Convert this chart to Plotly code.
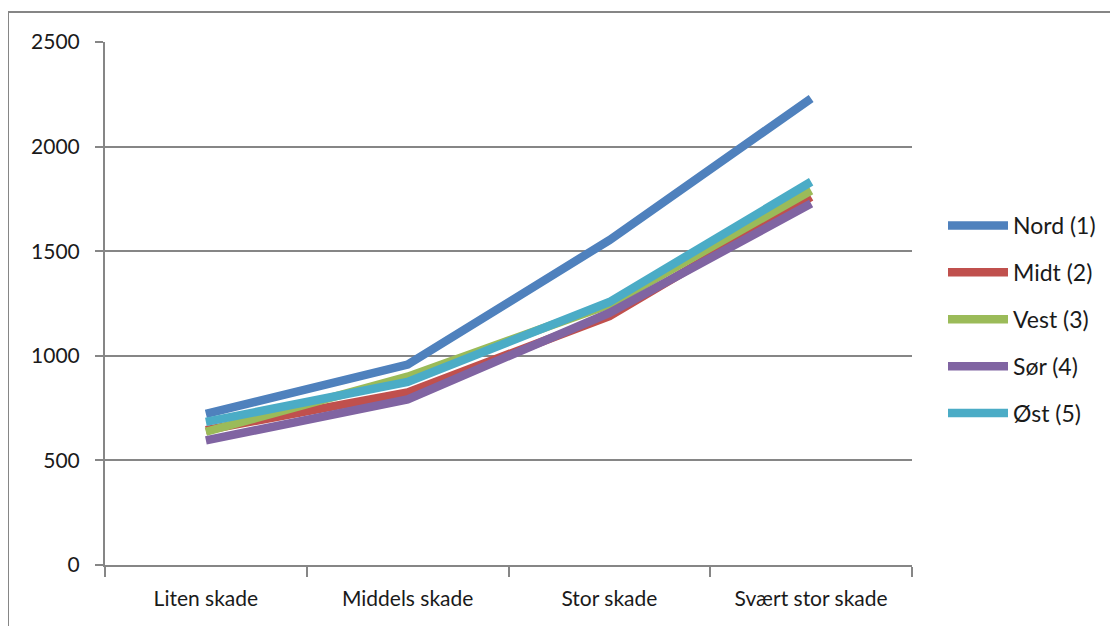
import plotly.graph_objects as go

categories = ["Liten skade", "Middels skade", "Stor skade", "Svært stor skade"]
series_names = ["Nord (1)", "Midt (2)", "Vest (3)", "Sør (4)", "Øst (5)"]
nord = [722, 958, 1553, 2230]
midt = [645, 825, 1190, 1760]
vest = [637, 900, 1245, 1790]
sor = [596, 792, 1205, 1728]
ost = [684, 875, 1257, 1832]
colors = ["#4F81BD", "#C0504D", "#9BBB59", "#8064A2", "#4BACC6"]
y_ticks = [0, 500, 1000, 1500, 2000, 2500]

values = [nord, midt, vest, sor, ost]

fig = go.Figure()
for i, (name, vals, col) in enumerate(zip(series_names, values, colors)):
    fig.add_trace(go.Scatter(
        x=categories, y=vals, mode="lines", name=name,
        line=dict(color=col, width=8.5), legendgroup=f"g{i}",
    ))

# page body has an 8px margin, so work in figure coordinates
W, H = 1110, 618
ml, mt = 97, 34
pw, ph = 807, 523
mr, mb = W - ml - pw, H - mt - ph

fig.update_layout(
    width=W, height=H,
    margin=dict(l=ml, r=mr, t=mt, b=mb),
    paper_bgcolor="white", plot_bgcolor="white",
    font=dict(family="Lato, Open Sans, sans-serif", size=21, color="#1a1a1a"),
    showlegend=True,
    legend=dict(
        x=(935 - ml) / pw, y=1 - (196 - mt) / ph,
        xanchor="left", yanchor="top",
        font=dict(size=23), tracegroupgap=14, itemwidth=60,
        bgcolor="rgba(0,0,0,0)",
    ),
    xaxis=dict(
        type="category", range=[-0.5, 3.5],
        showgrid=False, showline=True, linecolor="#868686", linewidth=2,
        ticks="outside", tickson="boundaries", ticklen=10, tickwidth=1.5,
        tickcolor="#868686", ticklabelstandoff=14,
    ),
    yaxis=dict(
        range=[0, 2500], tickvals=y_ticks, showgrid=True, gridcolor="#868686",
        gridwidth=2, showline=True, linecolor="#868686", linewidth=2,
        ticks="outside", ticklen=8, tickwidth=2, tickcolor="#868686",
        zeroline=False, ticklabelstandoff=11,
    ),
    shapes=[
        dict(type="line", xref="paper", yref="paper",
             x0=(0 - ml) / pw, x1=(0 - ml) / pw, y0=1 + (mt - 4) / ph, y1=-(mb + 20) / ph,
             line=dict(color="#868686", width=2)),
        dict(type="line", xref="paper", yref="paper",
             x0=(0 - ml) / pw, x1=(W + 10 - ml) / pw, y0=1 + (mt - 4) / ph, y1=1 + (mt - 4) / ph,
             line=dict(color="#868686", width=2)),
    ],
)

fig.write_html("out.html")
